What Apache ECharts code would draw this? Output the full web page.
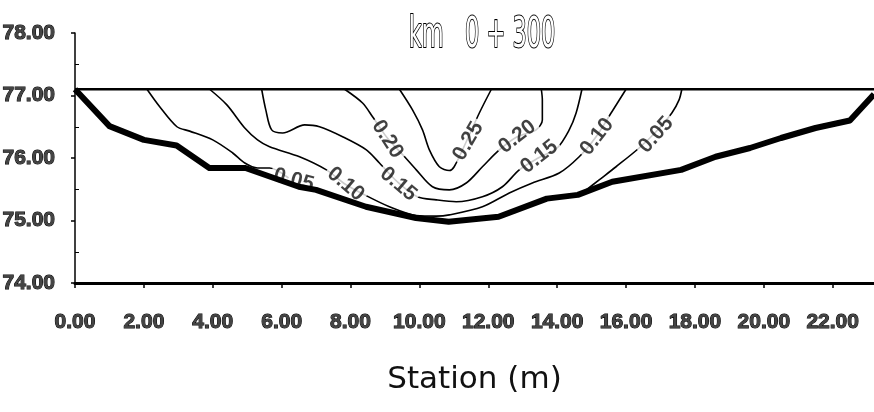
<!DOCTYPE html>
<html>
<head>
<meta charset="utf-8">
<script src="https://cdn.jsdelivr.net/npm/echarts@6/dist/echarts.min.js"></script>
<style>
  html, body { margin: 0; padding: 0; background: #fff; }
  #chart { width: 874px; height: 412px; }
</style>
</head>
<body>
<div id="chart"></div>
<script>
// channel bed (station m, elevation m)
const bedStation = [0, 1.0, 2.0, 2.95, 3.9, 4.95, 6.5, 7.0, 8.45, 9.9, 10.85, 12.3, 13.7, 14.6, 15.6, 17.6, 18.6, 19.6, 20.5, 21.5, 22.5, 23.2];
const bedElev = [77.1, 76.51, 76.29, 76.2, 75.84, 75.84, 75.54, 75.49, 75.22, 75.04, 74.98, 75.06, 75.35, 75.41, 75.62, 75.81, 76.02, 76.16, 76.32, 76.48, 76.6, 77.02];

// water surface
const surfaceStation = [0, 23.2];
const surfaceElev = [77.1, 77.1];

// velocity contours [station, elevation]
const c005Left = [[2.09, 77.10], [2.46, 76.82], [2.96, 76.50], [3.33, 76.43], [4.00, 76.29], [4.58, 76.08], [4.93, 75.92], [5.30, 75.84], [5.65, 75.84], [6.2, 75.68]];
const c005Right = [[14.8, 75.47], [15.22, 75.65], [15.71, 75.86], [16.38, 76.16], [16.87, 76.42], [17.33, 76.72], [17.54, 76.93], [17.62, 77.10]];
const c010 = [[3.91, 77.10], [4.41, 76.85], [4.93, 76.48], [5.30, 76.29], [5.65, 76.18], [6.52, 76.02], [7.30, 75.81], [7.85, 75.58], [8.41, 75.41], [9.13, 75.22], [9.91, 75.08], [10.49, 75.07], [10.87, 75.09], [11.83, 75.22], [12.61, 75.44], [13.28, 75.60], [14.06, 75.76], [14.64, 76.02], [15.13, 76.34], [15.59, 76.74], [16.00, 77.10]];
const c015 = [[5.42, 77.10], [5.54, 76.77], [5.71, 76.45], [6.03, 76.40], [6.67, 76.53], [7.10, 76.50], [7.77, 76.34], [8.46, 76.13], [8.84, 75.92], [9.36, 75.62], [9.94, 75.38], [10.49, 75.33], [11.07, 75.30], [11.83, 75.38], [12.41, 75.54], [12.90, 75.81], [13.45, 76.0], [14.0, 76.16], [14.35, 76.45], [14.55, 76.72], [14.72, 77.10]];
const c020 = [[7.83, 77.10], [8.35, 76.88], [8.64, 76.66], [9.07, 76.32], [9.57, 76.02], [9.91, 75.81], [10.38, 75.54], [10.87, 75.49], [11.36, 75.60], [11.83, 75.86], [12.32, 76.13], [12.84, 76.34], [13.39, 76.45], [13.57, 76.61], [13.57, 76.93], [13.54, 77.10]];
const c025 = [[9.42, 77.10], [9.80, 76.77], [10.09, 76.45], [10.29, 76.13], [10.58, 75.86], [10.87, 75.80], [11.01, 75.86], [11.36, 76.26], [11.74, 76.72], [12.09, 77.10]];

// contour labels
const labelText = ['0.05', '0.10', '0.15', '0.20', '0.25', '0.20', '0.15', '0.10', '0.05'];
const labelStation = [6.35, 7.86, 9.39, 9.07, 11.42, 12.84, 13.48, 15.16, 16.87];
const labelElev = [75.65, 75.58, 75.58, 76.30, 76.27, 76.34, 76.02, 76.34, 76.37];
const labelAngle = [-15, -40, -40, -57, 60, 38, 38, 52, 48];

const sans = '"Liberation Sans", Arial, sans-serif';

const tickText = {
  fontFamily: sans,
  fontWeight: 'bold',
  fontSize: 21,
  color: '#444',
  textBorderColor: '#000',
  textBorderWidth: 1,
};

const contourSeries = (data) => ({
  type: 'line',
  data,
  smooth: 0.3,
  symbol: 'none',
  z: 2,
  lineStyle: { color: '#000', width: 1.6 },
  silent: true,
});

const chart = echarts.init(document.getElementById('chart'));
chart.setOption({
  backgroundColor: '#fff',
  animation: false,
  graphic: [{
    type: 'text',
    x: 482,
    y: 36,
    scaleY: 1.7,
    style: {
      text: 'km   0 + 300',
      align: 'center',
      verticalAlign: 'middle',
      font: 'normal normal condensed 25px "DejaVu Sans"',
      fill: '#fff',
      stroke: '#000',
      lineWidth: 1.2,
    },
  }],
  grid: { left: 75, right: 0, top: 33, bottom: 129, outerBoundsMode: 'none' },
  xAxis: {
    type: 'value',
    min: 0,
    max: 23.2,
    interval: 2,
    name: 'Station (m)',
    nameLocation: 'middle',
    nameGap: 81,
    nameTextStyle: { fontFamily: '"DejaVu Sans", sans-serif', fontSize: 31, color: '#111' },
    splitLine: { show: false },
    axisLine: { lineStyle: { color: '#000', width: 3 } },
    axisTick: { inside: false, length: 5, lineStyle: { color: '#000', width: 1.5 } },
    axisLabel: Object.assign({
      margin: 29,
      showMaxLabel: false,
      formatter: (v) => v.toFixed(2),
    }, tickText),
  },
  yAxis: [{
    type: 'value',
    min: 74,
    max: 78,
    interval: 1,
    splitLine: { show: false },
    axisLine: { show: true, lineStyle: { color: '#000', width: 1.5 } },
    axisTick: { length: 4, lineStyle: { color: '#000', width: 1.5 } },
    axisLabel: Object.assign({
      margin: 20,
      formatter: (v) => v.toFixed(2),
    }, tickText),
  }, {
    // minor ticks drawn inside the plot, as in the reference
    type: 'value',
    position: 'left',
    min: 74,
    max: 78,
    interval: 1,
    splitLine: { show: false },
    axisLine: { show: false },
    axisLabel: { show: false },
    axisTick: { show: false, inside: true },
    minorTick: { show: true, splitNumber: 2, length: 4, lineStyle: { color: '#000', width: 1 } },
  }],
  series: [
    contourSeries(c005Left),
    contourSeries(c005Right),
    contourSeries(c010),
    contourSeries(c015),
    contourSeries(c020),
    contourSeries(c025),
    {
      type: 'scatter',
      z: 3,
      symbolSize: 1,
      itemStyle: { color: 'rgba(0,0,0,0)' },
      silent: true,
      data: labelText.map((t, i) => ({
        value: [labelStation[i], labelElev[i]],
        label: { rotate: labelAngle[i] },
      })),
      label: {
        show: true,
        position: 'inside',
        formatter: (p) => labelText[p.dataIndex],
        fontFamily: sans,
        fontWeight: 'bold',
        fontSize: 21,
        color: '#111',
        backgroundColor: '#fff',
        padding: [0, 3],
      },
    },
    {
      type: 'line',
      z: 4,
      symbol: 'none',
      silent: true,
      data: surfaceStation.map((s, i) => [s, surfaceElev[i]]),
      lineStyle: { color: '#000', width: 2.5 },
    },
    {
      type: 'line',
      z: 5,
      symbol: 'none',
      silent: true,
      data: bedStation.map((s, i) => [s, bedElev[i]]),
      lineStyle: { color: '#000', width: 6, join: 'round' },
    },
  ],
});
</script>
</body>
</html>
